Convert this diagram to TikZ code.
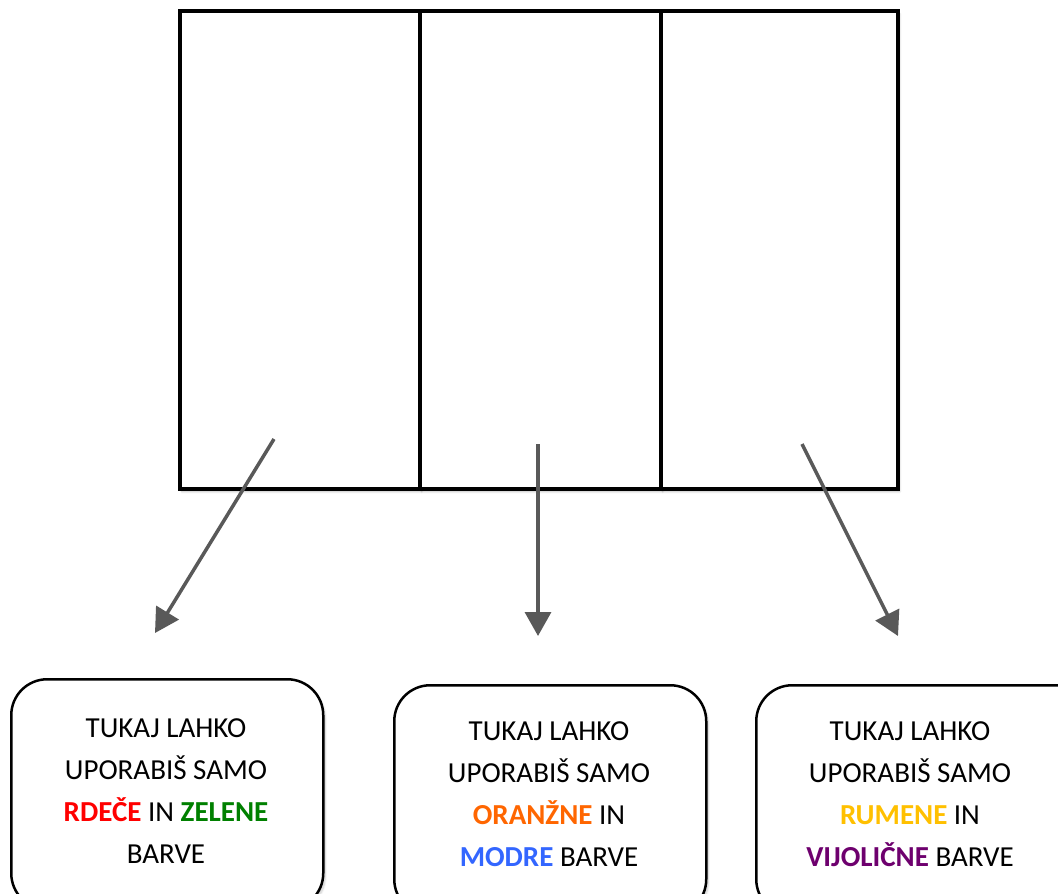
\documentclass[tikz,border=0pt]{standalone}
\usepackage{fontspec}
\setmainfont{Carlito}
\usetikzlibrary{arrows.meta,shadows.blur}
\definecolor{arrgray}{HTML}{595959}
\definecolor{cred}{HTML}{FF0000}
\definecolor{cgreen}{HTML}{008000}
\definecolor{corange}{HTML}{FF6600}
\definecolor{cblue}{HTML}{3366FF}
\definecolor{cyellow}{HTML}{FFC000}
\definecolor{cpurple}{HTML}{6E006E}
\begin{document}
\begin{tikzpicture}[x=1pt,y=-1pt,
  col/.style={draw=black,fill=white,line width=3.5pt,minimum height=478pt,inner sep=0pt,anchor=north west,
    blur shadow={shadow blur steps=6,shadow xshift=2pt,shadow yshift=-3pt,shadow opacity=25}},
  infobox/.style={draw=black,line width=2.5pt,rounded corners=36pt,anchor=north west,minimum height=230pt,
    blur shadow={shadow blur steps=6,shadow xshift=2pt,shadow yshift=-3pt,shadow opacity=20},fill=white},
  boxtext/.style={align=center,font=\fontsize{29pt}{42pt}\selectfont,inner sep=0pt},
  conn/.style={draw=arrgray,line width=3.5pt,-{Triangle[length=24pt,width=26pt]}}]
\useasboundingbox (0,0) rectangle (1058,894);
% columns
\node[col,minimum width=240pt] (c1) at (178,9) {};
\node[col,minimum width=241pt] (c2) at (418,9) {};
\node[col,minimum width=237pt] (c3) at (659,9) {};
% info boxes
\node[infobox,minimum width=312pt] (b1) at (10,678) {};
\node[infobox,minimum width=312pt] (b2) at (393,684) {};
\node[infobox,minimum width=340pt] (b3) at (755,684) {};
\node[boxtext] (t1) at (166,791) {TUKAJ LAHKO\\UPORABIŠ SAMO\\{\bfseries\color{cred}RDEČE} IN {\bfseries\color{cgreen}ZELENE}\\BARVE};
\node[boxtext] (t2) at (549,794) {TUKAJ LAHKO\\UPORABIŠ SAMO\\{\bfseries\color{corange}ORANŽNE} IN\\{\bfseries\color{cblue}MODRE} BARVE};
\node[boxtext] (t3) at (910,794) {TUKAJ LAHKO\\UPORABIŠ SAMO\\{\bfseries\color{cyellow}RUMENE} IN\\{\bfseries\color{cpurple}VIJOLIČNE} BARVE};
% arrows
\coordinate (s1) at (274,439);
\coordinate (e1) at (155,633);
\coordinate (s2) at (538,444);
\coordinate (e2) at (538,636);
\coordinate (s3) at (802,444);
\coordinate (e3) at (898,636);
\draw[conn] (s1) -- (e1);
\draw[conn] (s2) -- (e2);
\draw[conn] (s3) -- (e3);
\end{tikzpicture}
\end{document}
